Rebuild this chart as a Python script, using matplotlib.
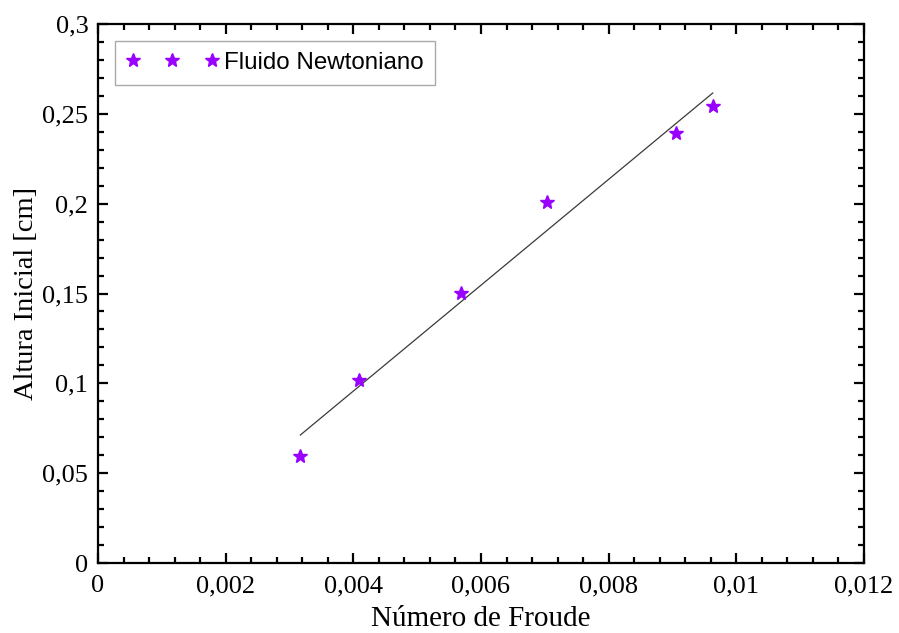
import numpy as np
import matplotlib
matplotlib.use("Agg")
import matplotlib.pyplot as plt
from matplotlib.ticker import FixedLocator, MultipleLocator

# Measured points: Froude number vs. initial height
froude = [0.00317, 0.00409, 0.00569, 0.00703, 0.00906, 0.00963]
altura = [0.0593, 0.102, 0.1503, 0.2007, 0.2396, 0.2545]

x_ticks = [0, 0.002, 0.004, 0.006, 0.008, 0.010, 0.012]
x_labels = ["0", "0,002", "0,004", "0,006", "0,008", "0,01", "0,012"]
y_ticks = [0, 0.05, 0.10, 0.15, 0.20, 0.25, 0.30]
y_labels = ["0", "0,05", "0,1", "0,15", "0,2", "0,25", "0,3"]

serif = ["Liberation Serif", "DejaVu Serif"]
sans = ["Liberation Sans", "DejaVu Sans"]

fig = plt.figure(figsize=(8.99, 6.33), dpi=100)
ax = fig.add_axes([98 / 899, 1 - 563 / 633, (864 - 98) / 899, (563 - 24) / 633])

star_color = "#9900FF"
ax.plot(froude, altura, linestyle="none", marker="*", markersize=10,
        color=star_color, markeredgecolor=star_color, label="Fluido Newtoniano",
        zorder=3)

# Linear least-squares fit over the measured range
coef = np.polyfit(froude, altura, 1)
xf = np.array([min(froude), max(froude)])
ax.plot(xf, np.polyval(coef, xf), color="#3a3a3a", linewidth=0.9, zorder=2)

ax.set_xlim(0, 0.012)
ax.set_ylim(0, 0.3)
ax.xaxis.set_major_locator(FixedLocator(x_ticks))
ax.yaxis.set_major_locator(FixedLocator(y_ticks))
ax.set_xticklabels(x_labels, family=serif, fontsize=19)
ax.set_yticklabels(y_labels, family=serif, fontsize=19)
ax.xaxis.set_minor_locator(MultipleLocator(0.0004))
ax.yaxis.set_minor_locator(MultipleLocator(0.01))

ax.tick_params(which="both", direction="in", top=True, right=True, width=1.6)
ax.tick_params(which="major", length=7.5)
ax.tick_params(which="minor", length=4)
ax.tick_params(axis="x", which="major", pad=9)
ax.tick_params(axis="y", which="major", pad=7)
for sp in ax.spines.values():
    sp.set_linewidth(1.6)

ax.set_xlabel("Número de Froude", family=serif, fontsize=21, labelpad=6)
ax.set_ylabel("Altura Inicial [cm]", family=serif, fontsize=20.5, labelpad=2)

leg = ax.legend(loc="upper left", numpoints=3, handlelength=3.85,
                handletextpad=0.22, borderpad=0.45, borderaxespad=0.7,
                prop={"family": sans, "size": 17.4}, fancybox=False,
                framealpha=1, edgecolor="#aaaaaa")
leg.get_frame().set_linewidth(1.0)

fig.savefig("out.png", dpi=100)
